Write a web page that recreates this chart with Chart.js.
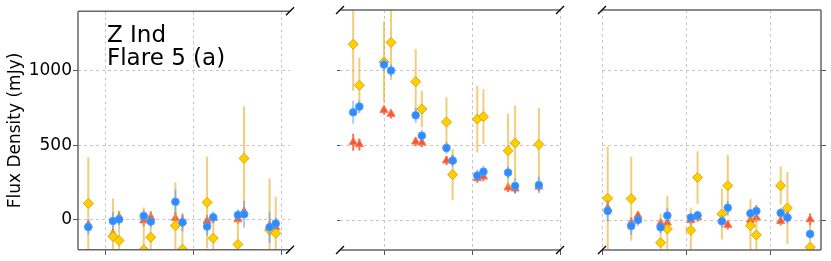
<!DOCTYPE html>
<html>
<head>
<meta charset="utf-8">
<script src="https://cdn.jsdelivr.net/npm/chart.js@4.4.1/dist/chart.umd.min.js"></script>
<style>
  body { margin: 0; background: #fff; width: 831px; height: 261px; position: relative; overflow: hidden; font-family: "DejaVu Sans", sans-serif; }
  canvas { position: absolute; top: 0; }
  #note { position: absolute; left: 107px; top: 22.6px; font-size: 23px; line-height: 23px; color: #000; white-space: pre; }
</style>
</head>
<body>
<canvas id="c1" width="310" height="261" style="left:0px"></canvas>
<canvas id="c2" width="260" height="261" style="left:320px"></canvas>
<canvas id="c3" width="246" height="261" style="left:585px"></canvas>
<div id="note">Z Ind
Flare 5 (a)</div>
<script>
// y ticks shared by all panels
const yTicks = [0, 500, 1000];
const xGrid = [1, 2, 3];

// panel 1
const x1 = [0.81, 1.09, 1.16, 1.44, 1.52, 1.80, 1.88, 2.16, 2.23, 2.51, 2.58, 2.87, 2.94];
const blue1 = [-47, -7, 4, 27, -11, 122, -16, -44, 18, 33, 38, -49, -24];
const blueErr1 = [50, 60, 40, 40, 40, 80, 60, 60, 40, 40, 90, 105, 40];
const red1 = [-33, -93, 18, -4, 18, 11, -10, -7, 12, 4, 56, -40, -49];
const redErr1 = [30, 30, 40, 40, 40, 40, 40, 40, 30, 30, 30, 30, 30];
const yellow1 = [111, -111, -138, -200, -116, -38, -196, 118, -122, -164, 413, -67, -89];
const yellowErr1 = [310, 255, 200, 284, 160, 290, 240, 308, 160, 190, 350, 345, 245];

// panel 2
const x2 = [0.65, 0.72, 1.00, 1.08, 1.36, 1.43, 1.71, 1.78, 2.06, 2.13, 2.41, 2.49, 2.76];
const blue2 = [718, 756, 1036, 996, 698, 562, 480, 396, 296, 322, 316, 227, 233];
const blueErr2 = [77, 40, 40, 40, 50, 40, 40, 40, 40, 40, 40, 50, 55];
const red2 = [518, 504, 733, 707, 522, 516, 396, 400, 278, 289, 216, 209, 222];
const redErr2 = [57, 40, 30, 30, 30, 30, 30, 30, 30, 30, 30, 30, 30];
const yellow2 = [1171, 898, 1053, 1184, 922, 740, 653, 302, 673, 689, 462, 513, 504];
const yellowErr2 = [310, 186, 270, 250, 218, 122, 165, 171, 222, 182, 245, 250, 245];

// panel 3
const x3 = [1.06, 1.34, 1.42, 1.69, 1.77, 2.05, 2.13, 2.42, 2.49, 2.76, 2.83, 3.12, 3.20, 3.47];
const blue3 = [60, -40, 0, -49, 29, 16, 31, -9, 82, 44, 60, 47, 16, -93];
const blueErr3 = [70, 60, 40, 40, 50, 30, 30, 40, 45, 30, 40, 35, 40, 30];
const red3 = [78, -18, 29, -22, -18, -2, 18, 0, -33, 0, 16, -7, 29, 4];
const redErr3 = [30, 30, 30, 30, 30, 30, 30, 30, 30, 30, 30, 30, 30, 40];
const yellow3 = [144, 142, null, -151, -60, -69, 284, 40, 229, -38, -100, 229, 80, -182];
const yellowErr3 = [345, 280, 0, 195, 220, 153, 175, 170, 205, 176, 200, 128, 240, 150];

function points(xs, vals) {
  return xs.map((x, i) => ({ x: x, y: vals[i] })).filter(p => p.y != null);
}

// error bars as broken line segments (null breaks the line)
function errPoints(xs, vals, errs) {
  const out = [];
  xs.forEach((x, i) => {
    if (vals[i] == null) return;
    out.push({ x: x, y: vals[i] - errs[i] }, { x: x, y: vals[i] + errs[i] }, { x: x, y: null });
  });
  return out;
}

function markerSet(data, style, radius, bg, border) {
  return {
    type: "scatter",
    data: data,
    pointStyle: style,
    pointRadius: radius,
    backgroundColor: bg,
    borderColor: border,
    borderWidth: 1,
    showLine: false,
    clip: 0,
  };
}

function errSet(data, color) {
  return {
    type: "line",
    data: data,
    borderColor: color,
    borderWidth: 2,
    pointRadius: 0,
    showLine: true,
    spanGaps: false,
    clip: 0,
  };
}

// spines and the little "//" break marks
const frame = {
  id: "frame",
  afterDraw(chart, args, opts) {
    const { ctx, chartArea: a } = chart;
    ctx.save();
    ctx.strokeStyle = "#666";
    ctx.lineWidth = 1.5;
    ctx.beginPath();
    ctx.moveTo(a.left, a.top); ctx.lineTo(a.right, a.top);
    ctx.moveTo(a.left, a.bottom); ctx.lineTo(a.right, a.bottom);
    if (opts.left) { ctx.moveTo(a.left, a.top); ctx.lineTo(a.left, a.bottom); }
    if (opts.right) { ctx.moveTo(a.right, a.top); ctx.lineTo(a.right, a.bottom); }
    ctx.stroke();
    ctx.strokeStyle = "#000";
    ctx.lineWidth = 1.3;
    ctx.beginPath();
    for (const x of opts.breaks.map(s => (s == "l" ? a.left : a.right))) {
      for (const y of [a.top, a.bottom]) {
        ctx.moveTo(x - 4, y + 4);
        ctx.lineTo(x + 4, y - 4);
      }
    }
    ctx.stroke();
    ctx.restore();
  },
};

function makeChart(id, xs, blue, blueErr, red, redErr, yellow, yellowErr, cfg) {
  const datasets = [
    markerSet(points(xs, blue), "circle", 3.8, "#2f8cff", "#4a9bff"),
    errSet(errPoints(xs, blue, blueErr), "rgba(60,140,240,0.45)"),
    markerSet(points(xs, yellow), "rectRot", 5, "#ffd000", "#e0a400"),
    errSet(errPoints(xs, yellow, yellowErr), "rgba(232,172,40,0.6)"),
    markerSet(points(xs, red), "triangle", 4.7, "#fb5530", "#ff7a52"),
    errSet(errPoints(xs, red, redErr), "rgba(240,80,40,0.8)"),
  ];
  return new Chart(document.getElementById(id), {
    type: "scatter",
    data: { datasets: datasets },
    plugins: [frame],
    options: {
      responsive: false,
      animation: false,
      layout: { padding: cfg.padding },
      plugins: {
        legend: { display: false },
        tooltip: { enabled: false },
        frame: { left: cfg.left, right: cfg.right, breaks: cfg.breaks },
      },
      scales: {
        x: {
          type: "linear",
          min: cfg.xmin,
          max: cfg.xmax,
          afterBuildTicks: (axis) => { axis.ticks = xGrid.map(v => ({ value: v })); },
          afterFit: (axis) => { axis.height = 11; },
          ticks: { display: false },
          grid: { color: "#c6c6c6", lineWidth: 1, drawTicks: true, tickLength: 5, tickColor: "#555", tickBorderDash: [] },
          border: { display: false, dash: [3, 3] },
        },
        y: {
          type: "linear",
          position: cfg.yPos,
          min: -200,
          max: 1400,
          afterBuildTicks: (axis) => { axis.ticks = yTicks.map(v => ({ value: v })); },
          afterFit: (axis) => { axis.width = cfg.yWidth; },
          ticks: {
            display: cfg.yLabels,
            color: "#000",
            padding: 1,
            font: { family: "DejaVu Sans", size: 17 },
            callback: (v) => String(v),
          },
          title: {
            display: cfg.yLabels,
            text: "Flux Density (mJy)",
            color: "#000",
            padding: { top: 5, bottom: 0 },
            font: { family: "DejaVu Sans", size: 17 },
          },
          grid: { color: "#c6c6c6", lineWidth: 1, drawTicks: true, tickLength: cfg.yTick, tickColor: "#555", tickBorderDash: [] },
          border: { display: false, dash: [3, 3] },
        },
      },
    },
  });
}

makeChart("c1", x1, blue1, blueErr1, red1, redErr1, yellow1, yellowErr1, {
  padding: { left: 0, right: 20, top: 10, bottom: 0 },
  xmin: 0.693, xmax: 3.102, yPos: "left", yWidth: 78, yTick: 5, yLabels: true,
  left: true, right: false, breaks: ["r"],
});
makeChart("c2", x2, blue2, blueErr2, red2, redErr2, yellow2, yellowErr2, {
  padding: { left: 0, right: 20, top: 10, bottom: 0 },
  xmin: 0.5, xmax: 3.0, yPos: "left", yWidth: 20, yTick: 3, yLabels: false,
  left: false, right: false, breaks: ["l", "r"],
});
makeChart("c3", x3, blue3, blueErr3, red3, redErr3, yellow3, yellowErr3, {
  padding: { left: 17, right: 0, top: 10, bottom: 0 },
  xmin: 0.992, xmax: 3.6, yPos: "right", yWidth: 10, yTick: 5, yLabels: false,
  left: false, right: true, breaks: ["l"],
});
</script>
</body>
</html>
